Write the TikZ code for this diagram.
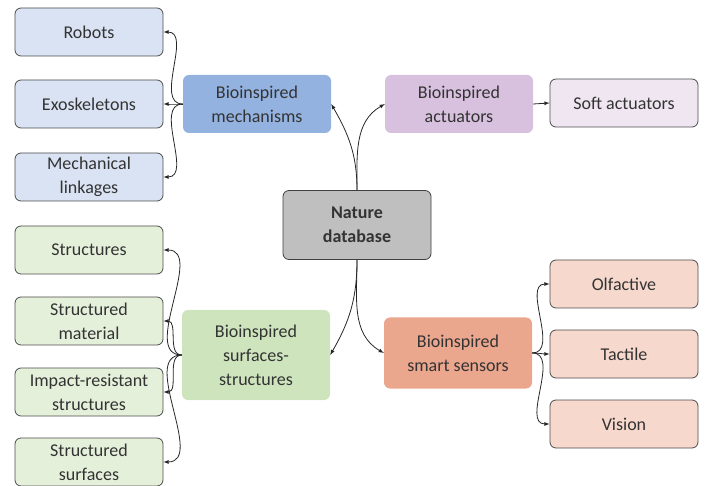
\documentclass[tikz,border=0pt]{standalone}
\usepackage{fontspec}
\setmainfont{Carlito}
\usetikzlibrary{arrows,shapes,positioning}
\definecolor{leafblue}{HTML}{DAE3F3}
\definecolor{hubblue}{HTML}{93B2E0}
\definecolor{leafviolet}{HTML}{EFE6F2}
\definecolor{hubviolet}{HTML}{D8C0DF}
\definecolor{leafred}{HTML}{F6D8CD}
\definecolor{hubred}{HTML}{EBA68E}
\definecolor{leafgreen}{HTML}{E5F0DB}
\definecolor{hubgreen}{HTML}{CDE4BD}
\definecolor{rootgray}{HTML}{BFBFBF}
\tikzset{
    basic/.style  = {rectangle, rounded corners=6pt, minimum width=148pt, align=center, text=black!80, font=\fontsize{18}{24}\selectfont},
    leaf/.style   = {basic, draw=black!70, thick, minimum height=48pt},
    hub/.style    = {basic, draw=none},
    root/.style   = {basic, draw=black!75, thick, fill=rootgray, minimum height=69pt, font=\bfseries\fontsize{18}{24}\selectfont},
    link/.style   = {->, >=latex, thick, black!85}
}
\begin{document}
\begin{tikzpicture}[x=1pt,y=-1pt]
    \useasboundingbox (0,0) rectangle (707,486);
    \node[root] (nature) at (357,225) {Nature\\database};

    \node[hub, fill=hubblue, minimum height=58pt] (mech) at (257,104) {Bioinspired\\mechanisms};
    \node[hub, fill=hubviolet, minimum height=58pt] (act) at (459,104) {Bioinspired\\actuators};
    \node[hub, fill=hubgreen, minimum height=90pt] (surf) at (256,355) {Bioinspired\\surfaces-\\structures};
    \node[hub, fill=hubred, minimum height=71pt] (sens) at (458,353) {Bioinspired\\smart sensors};

    \begin{scope}[every node/.style={leaf, fill=leafblue}]
        \node (robots) at (89,32) {Robots};
        \node (exo) at (89,104) {Exoskeletons};
        \node (linkage) at (89,177) {Mechanical\\linkages};
    \end{scope}
    \node[leaf, fill=leafviolet] (soft) at (624,103) {Soft actuators};
    \begin{scope}[every node/.style={leaf, fill=leafred}]
        \node (olf) at (624,284) {Olfactive};
        \node (tact) at (624,354) {Tactile};
        \node (vis) at (624,424) {Vision};
    \end{scope}
    \begin{scope}[every node/.style={leaf, fill=leafgreen}]
        \node (struct) at (89,250) {Structures};
        \node (smat) at (89,321) {Structured\\material};
        \node (impact) at (89,392) {Impact-resistant\\structures};
        \node (ssurf) at (89,462) {Structured\\surfaces};
    \end{scope}

    \draw[link] (nature.north) to[out=90, in=-60] (mech.east);
    \draw[link] (nature.north) to[out=90, in=210] (act.west);
    \draw[link] (nature.south) to[out=-90, in=60] (surf.east);
    \draw[link] (nature.south) to[out=-90, in=150] (sens.west);

    \foreach \t in {robots, exo, linkage}
        \draw[link] (mech.west) to[out=180, in=0] (\t.east);
    \draw[link] (act.east) -- (soft.west);
    \foreach \t in {olf, tact, vis}
        \draw[link] (sens.east) to[out=0, in=180] (\t.west);
    \foreach \t in {struct, smat, impact, ssurf}
        \draw[link] (surf.west) to[out=180, in=0] (\t.east);
\end{tikzpicture}
\end{document}
